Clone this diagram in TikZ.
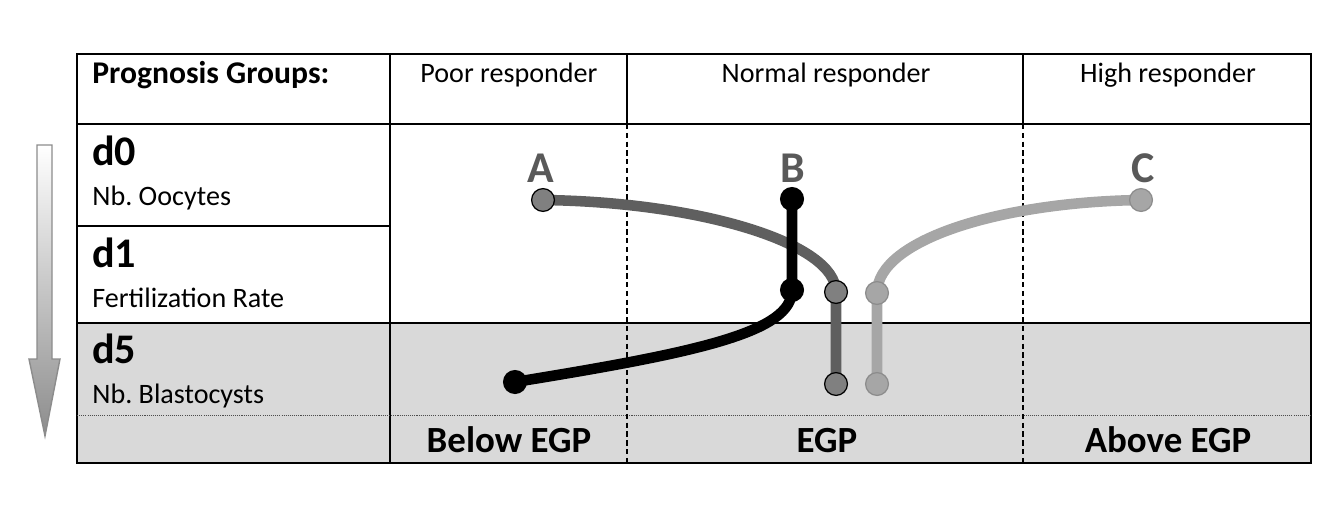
\documentclass[tikz,border=0pt]{standalone}
\usepackage{fontspec}
\setmainfont{Carlito}
\usepackage{xcolor}
\usetikzlibrary{calc}

\definecolor{cellgray}{HTML}{D9D9D9}
\definecolor{curveA}{HTML}{5F5F5F}
\definecolor{dotAfill}{HTML}{808080}
\definecolor{curveC}{HTML}{A6A6A6}
\definecolor{dotCline}{HTML}{8C8C8C}
\definecolor{lettergray}{HTML}{595959}

\tikzset{
  grid/.style={line width=0.75pt},
  dashgrid/.style={line width=0.6pt, dash pattern=on 3pt off 2pt},
  dotgrid/.style={line width=0.5pt, black!70, dash pattern=on 0.6pt off 0.6pt},
  resp/.style={anchor=base, font=\fontsize{16}{19}\selectfont},
  daylbl/.style={anchor=base west, inner sep=0pt, font=\bfseries\fontsize{24}{28}\selectfont},
  measlbl/.style={anchor=base west, inner sep=0pt, font=\fontsize{16}{19}\selectfont},
  egplbl/.style={anchor=base, font=\bfseries\fontsize{21}{25}\selectfont},
  caselbl/.style={anchor=base, text=lettergray, font=\bfseries\fontsize{25}{30}\selectfont},
  casepath/.style={line width=6pt, line cap=round, line join=round},
  casedot/.style={circle, inner sep=0pt, minimum size=13pt, line width=0.7pt},
}

\begin{document}
\begin{tikzpicture}[x=0.02cm, y=-0.02cm]
\useasboundingbox (0,0) rectangle (1341,510);

% table
\fill[cellgray] (77,323) rectangle (1311,463);
\draw[grid] (77,54) rectangle (1311,463);
\draw[grid] (390,54) -- (390,463);
\draw[grid] (627,54) -- (627,124);
\draw[grid] (1023,54) -- (1023,124);
\draw[grid] (77,124) -- (1311,124);
\draw[grid] (77,226) -- (390,226);
\draw[grid] (77,323) -- (1311,323);
\draw[dotgrid] (77,415) -- (1311,415);
\draw[dashgrid] (627,124) -- (627,463);
\draw[dashgrid] (1023,124) -- (1023,463);

% time arrow
\draw[gray!90, line width=0.8pt, top color=white, bottom color=gray!90]
  (37,145) -- (52,145) -- (52,359) -- (60,359) -- (45,436) -- (29,359) -- (37,359) -- cycle;

% header
\node[anchor=base west, inner sep=0pt, font=\bfseries\fontsize{18}{21}\selectfont] (groups) at (92,84) {Prognosis Groups:};
\node[resp] (poor) at (509,83) {Poor responder};
\node[resp] (normal) at (826,83) {Normal responder};
\node[resp] (high) at (1168,83) {High responder};

% days
\node[daylbl] (d0) at (92,165) {d0};
\node[measlbl] (oocytes) at (92,205) {Nb.\ Oocytes};
\node[daylbl] (d1) at (92,267) {d1};
\node[measlbl] (fert) at (92,307) {Fertilization Rate};
\node[daylbl] (d5) at (92,363) {d5};
\node[measlbl] (blasto) at (92,403) {Nb.\ Blastocysts};

% EGP classes
\node[egplbl] (below) at (509,452) {Below EGP};
\node[egplbl] (egp) at (827,452) {EGP};
\node[egplbl] (above) at (1168,452) {Above EGP};

% cases
\coordinate (a0) at (543,200);
\coordinate (a1) at (836,292);
\coordinate (a2) at (836,384);
\coordinate (b0) at (792,199);
\coordinate (b1) at (792,290);
\coordinate (b2) at (515,382);
\coordinate (c0) at (1141,200);
\coordinate (c1) at (877,293);
\coordinate (c2) at (877,384);

\draw[casepath, curveA] (a0) .. controls (700,202) and (836,243) .. (a1) -- (a2);
\draw[casepath, black] (b0) -- (b1) .. controls (792,332) and (700,352) .. (b2);
\draw[casepath, curveC] (c0) .. controls (1000,202) and (877,240) .. (c1) -- (c2);

\node[casedot, draw=black, fill=dotAfill] (a0dot) at (a0) {};
\node[casedot, draw=black, fill=dotAfill] (a1dot) at (a1) {};
\node[casedot, draw=black, fill=dotAfill] (a2dot) at (a2) {};
\node[casedot, draw=black, fill=black] (b0dot) at (b0) {};
\node[casedot, draw=black, fill=black] (b1dot) at (b1) {};
\node[casedot, draw=black, fill=black] (b2dot) at (b2) {};
\node[casedot, draw=dotCline, fill=curveC] (c0dot) at (c0) {};
\node[casedot, draw=dotCline, fill=curveC] (c1dot) at (c1) {};
\node[casedot, draw=dotCline, fill=curveC] (c2dot) at (c2) {};

\node[caselbl] (A) at (541,182) {A};
\node[caselbl] (B) at (793,182) {B};
\node[caselbl] (C) at (1143,182) {C};
\end{tikzpicture}
\end{document}
